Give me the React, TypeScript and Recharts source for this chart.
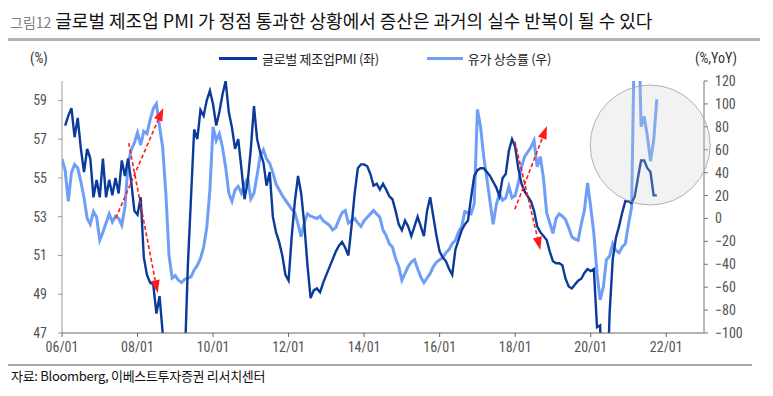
import React from 'react';
import { LineChart, Line, XAxis, YAxis, ReferenceLine, ReferenceDot } from 'recharts';

const TITLE_TAG = '그림12';
const TITLE = '글로벌 제조업 PMI 가 정점 통과한 상황에서 증산은 과거의 실수 반복이 될 수 있다';
const SOURCE = '자료: Bloomberg, 이베스트투자증권 리서치센터';
const SERIES_NAMES = ['글로벌 제조업PMI (좌)', '유가 상승률 (우)'];
const SERIES_COLORS = ['#0a3a9a', '#6f9ef7'];
const LEFT_UNIT = '(%)';
const RIGHT_UNIT = '(%,YoY)';

// x axis: months since 2006-01
const X_TICKS = [0, 24, 48, 72, 96, 120, 144, 168, 192];
const X_TICK_LABELS = ['06/01', '08/01', '10/01', '12/01', '14/01', '16/01', '18/01', '20/01', '22/01'];
const LEFT_TICKS = [47, 49, 51, 53, 55, 57, 59];
const RIGHT_TICKS = [-100, -80, -60, -40, -20, 0, 20, 40, 60, 80, 100, 120];

// Global manufacturing PMI, monthly from 2006-01 (plotted at month end)
const PMI = [
  57.7, 58.2, 58.6, 57.1, 58.1, 56.5, 55.3, 56.5, 56.0, 54.0,
  54.9, 54.0, 56.0, 54.0, 54.9, 54.1, 55.0, 54.2, 55.9, 55.1,
  56.0, 54.8, 53.3, 53.1, 54.0, 50.9, 50.0, 49.6, 49.5, 48.0,
  48.9, 47.0, 42.0, 37.0, 34.0, 34.5, 36.0, 40.0, 45.5, 50.5,
  54.0, 57.5, 57.0, 58.5, 58.2, 59.0, 59.5, 58.8, 57.7, 58.4,
  59.3, 60.0, 58.4, 57.6, 56.5, 57.0, 55.5, 53.9, 54.8, 56.5,
  58.7, 57.0, 56.3, 55.8, 54.6, 55.3, 53.0, 52.2, 51.7, 51.0,
  50.0, 49.7, 52.0, 53.8, 55.1, 54.2, 52.6, 50.5, 48.8, 49.2,
  49.3, 49.1, 49.6, 50.0, 50.4, 50.8, 51.2, 51.5, 51.7, 51.4,
  51.0, 52.5, 54.2, 55.5, 55.7, 55.7, 55.6, 55.2, 54.6, 54.7,
  54.4, 54.7, 54.4, 54.05, 53.9, 53.3, 52.6, 52.3, 52.8, 52.5,
  52.0, 52.5, 53.0, 52.5, 52.0, 53.3, 54.0, 53.0, 52.0, 51.2,
  50.9, 50.7, 50.3, 50.0, 51.3, 51.8, 52.3, 52.6, 52.8, 54.0,
  55.1, 55.4, 55.5, 55.5, 55.3, 55.1, 54.8, 54.5, 54.05, 55.0,
  55.2, 56.4, 57.0, 56.6, 55.5, 54.7, 54.3, 54.05, 53.8, 53.3,
  52.5, 52.2, 52.0, 51.8, 51.2, 50.7, 50.6, 50.6, 50.5, 49.8,
  49.4, 49.3, 49.5, 49.7, 49.8, 50.1, 50.3, 50.2, 50.3, 47.3,
  47.4, 40.0, 42.5, 48.0, 50.8, 51.9, 52.5, 53.2, 53.8, 53.8,
  53.7, 54.05, 55.0, 55.9, 55.9, 55.5, 55.3, 54.1, 54.1,
];

// Oil price YoY (%), monthly samples from 2006-01
const OIL = [
  52, 42, 15, 40, 47, 44, 32, 18, 0, -5,
  6, 1, -19, -12, -4, 4, -3, 2, 0, -6,
  10, 48, 60, 66, 75, 64, 76, 74, 86, 96,
  100, 80, 62, 22, -32, -52, -50, -54, -56, -53,
  -52, -51, -45, -41, -35, -25, -8, 25, 80, 68,
  74, 62, 45, 22, 15, 25, 28, 22, 30, 35,
  17, 22, 38, 55, 60, 52, 48, 40, 30, 25,
  20, 16, 12, 8, 5, -5, -16, -4, 4, 2,
  1, 0, 2, -2, -4, -6, -10, -8, -1, 5,
  7, -4, -2, 0, -4, -7, -2, 1, 4, 7,
  4, 1, -10, -15, -22, -25, -35, -42, -54, -48,
  -42, -38, -36, -44, -51, -56, -52, -48, -42, -38,
  -36, -34, -30, -27, -22, -19, -12, -7, 6, 5,
  4, 13, 95, 80, 54, 35, 15, -5, 12, 22,
  16, 18, 28, 18, 20, 31, 45, 54, 58, 62,
  68, 45, 54, 35, 5, -4, -13, 0, 4, 2,
  -1, -8, -16, -18, -19, -5, 7, 31, 10, -13,
  -48, -71, -60, -36, -33, -22, -28, -30, -25, -22,
  -5, 10, 180, 200, 80, 89, 72, 50, 68, 104,
];

// Annotation arrows (month, PMI level)
const ARROWS = [
  { from: [17.1, 52.93], to: [32.2, 58.61] },
  { from: [21.2, 56.8], to: [30.4, 49.06] },
  { from: [143.9, 53.38], to: [154.1, 57.68] },
  { from: [143.9, 56.87], to: [152.0, 51.28] },
];
// Highlight circle (month, oil YoY)
const HIGHLIGHT = { m: 186.9, v: 64.1 };

const pmiData = PMI.map((v, i) => ({ m: i + 1, pmi: v }));
const oilData = OIL.map((v, i) => ({ m: i, oil: v }));

const NARROW = "'Liberation Sans Narrow', 'Arial Narrow', 'Roboto Condensed', sans-serif";
const KR = "'Noto Sans CJK KR', 'Noto Sans', sans-serif";

const ArrowShape = (p: any) => {
  const { x1, y1, x2, y2 } = p;
  const dx = x2 - x1;
  const dy = y2 - y1;
  const len = Math.hypot(dx, dy) || 1;
  const ux = dx / len;
  const uy = dy / len;
  const hl = 13;
  const hw = 4.5;
  const bx = x2 - ux * hl;
  const by = y2 - uy * hl;
  const pts = `${x2},${y2} ${bx - uy * hw},${by + ux * hw} ${bx + uy * hw},${by - ux * hw}`;
  return (
    <g>
      <line x1={x1} y1={y1} x2={bx} y2={by} stroke="#ff1a1a" strokeWidth={1.6} strokeDasharray="4 2.5" />
      <polygon points={pts} fill="#ff1a1a" />
    </g>
  );
};

const fmtRight = (v: number) => (v < 0 ? `\u2212${Math.abs(v)}` : `${v}`);

export default function App() {
  return (
    <div style={{ position: 'absolute', left: 0, top: 0, width: 773, height: 396, background: '#fff', overflow: 'hidden' }}>
      <div style={{ position: 'absolute', left: 10, top: 6, whiteSpace: 'nowrap', fontFamily: KR, lineHeight: '28px' }}>
        <span style={{ fontSize: 14, color: '#808080', marginRight: 4 }}>{TITLE_TAG}</span>
        <span style={{ fontSize: 18, color: '#111' }}>{TITLE}</span>
      </div>
      <div style={{ position: 'absolute', left: 8, top: 38, width: 752, height: 3, background: '#b4b4b4' }} />

      <div style={{ position: 'absolute', left: 30, top: 50, fontFamily: NARROW, fontSize: 14, color: '#333' }}>{LEFT_UNIT}</div>
      <div style={{ position: 'absolute', left: 695, top: 50, fontFamily: NARROW, fontSize: 14, color: '#333' }}>{RIGHT_UNIT}</div>

      <div style={{ position: 'absolute', left: 219, top: 49, display: 'flex', alignItems: 'center', fontFamily: KR, fontSize: 13, color: '#222', whiteSpace: 'nowrap' }}>
        <span style={{ display: 'inline-block', width: 38, height: 3, background: SERIES_COLORS[0], marginRight: 5 }} />
        <span style={{ letterSpacing: -0.3 }}>{SERIES_NAMES[0]}</span>
        <span style={{ display: 'inline-block', width: 36, height: 3, background: SERIES_COLORS[1], marginLeft: 48, marginRight: 5 }} />
        <span style={{ letterSpacing: -0.3 }}>{SERIES_NAMES[1]}</span>
      </div>

      <div style={{ position: 'absolute', left: 0, top: 0 }}>
        <LineChart width={773} height={396} margin={{ top: 81, right: 0, bottom: 33, left: 0 }}>
          <XAxis
            dataKey="m"
            type="number"
            domain={[0, 204]}
            ticks={X_TICKS}
            allowDataOverflow
            tickFormatter={(v: number) => X_TICK_LABELS[X_TICKS.indexOf(v)] ?? ''}
            height={30}
            stroke="#666"
            tickSize={4}
            tickMargin={5}
            tick={{ fill: '#555', fontSize: 14, fontFamily: NARROW }}
          />
          <YAxis
            yAxisId="left"
            orientation="left"
            domain={[47, 60]}
            ticks={LEFT_TICKS}
            allowDataOverflow
            width={62}
            stroke="#999"
            tickSize={4}
            tickMargin={11}
            tick={{ fill: '#555', fontSize: 14, fontFamily: NARROW }}
          />
          <YAxis
            yAxisId="right"
            orientation="right"
            domain={[-100, 120]}
            ticks={RIGHT_TICKS}
            allowDataOverflow
            width={69}
            stroke="#777"
            tickSize={4}
            tickMargin={7}
            tickFormatter={fmtRight}
            tick={{ fill: '#555', fontSize: 14, fontFamily: NARROW }}
          />
          <Line
            yAxisId="right"
            data={oilData}
            dataKey="oil"
            stroke={SERIES_COLORS[1]}
            strokeWidth={3}
            dot={false}
            isAnimationActive={false}
          />
          <Line
            yAxisId="left"
            data={pmiData}
            dataKey="pmi"
            stroke={SERIES_COLORS[0]}
            strokeWidth={2.4}
            dot={false}
            isAnimationActive={false}
          />
          <ReferenceDot
            yAxisId="right"
            x={HIGHLIGHT.m}
            y={HIGHLIGHT.v}
            r={60}
            fill="#cbcbcb"
            fillOpacity={0.25}
            stroke="#a0a0a0"
            strokeWidth={0.8}
            ifOverflow="visible"
          />
          {ARROWS.map((a, i) => (
            <ReferenceLine
              key={i}
              yAxisId="left"
              segment={[{ x: a.from[0], y: a.from[1] }, { x: a.to[0], y: a.to[1] }]}
              shape={ArrowShape}
              ifOverflow="visible"
            />
          ))}
        </LineChart>
      </div>

      <div style={{ position: 'absolute', left: 8, top: 364, width: 744, height: 2, background: '#a8a8a8' }} />
      <div style={{ position: 'absolute', left: 11, top: 366, fontFamily: KR, fontSize: 13, color: '#111', whiteSpace: 'nowrap', letterSpacing: -0.3 }}>{SOURCE}</div>
    </div>
  );
}
